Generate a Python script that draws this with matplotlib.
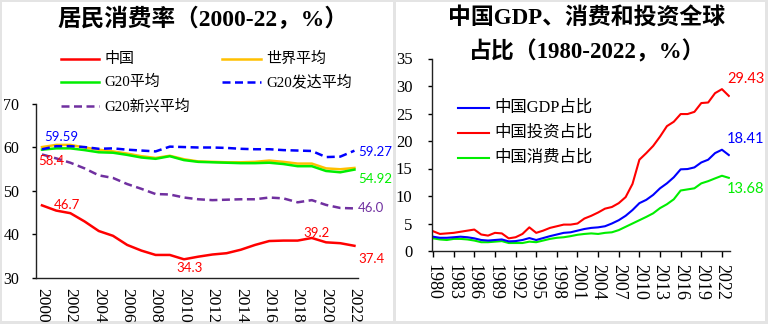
import matplotlib
matplotlib.use("Agg")
import numpy as np
import matplotlib.pyplot as plt
from matplotlib.lines import Line2D
from matplotlib.patches import Rectangle

# 居民消费率 2000-2022
years_a = np.arange(2000, 2023)
china = [46.7, 45.5, 44.9, 43.0, 40.8, 39.7, 37.6, 36.3, 35.3, 35.3, 34.3, 34.9,
         35.4, 35.7, 36.5, 37.6, 38.5, 38.6, 38.6, 39.2, 38.2, 38.0, 37.4]
world = [60.1, 60.6, 60.6, 60.0, 59.5, 59.1, 58.6, 58.0, 57.6, 58.1, 57.3, 56.8,
         56.7, 56.6, 56.6, 56.7, 57.0, 56.7, 56.3, 56.3, 55.2, 55.0, 55.3]
g20 = [59.5, 59.8, 59.8, 59.4, 58.9, 58.8, 58.3, 57.7, 57.4, 58.0, 57.1, 56.7,
       56.6, 56.5, 56.4, 56.4, 56.5, 56.2, 55.7, 55.7, 54.6, 54.3, 54.92]
g20_dev = [59.59, 60.3, 60.3, 60.1, 59.7, 59.8, 59.5, 59.3, 59.1, 60.2, 60.1, 60.0,
           60.0, 59.9, 59.7, 59.6, 59.6, 59.4, 59.3, 59.2, 57.8, 57.9, 59.27]
g20_emg = [58.4, 57.5, 56.5, 55.2, 53.6, 53.0, 51.6, 50.5, 49.3, 49.2, 48.5, 48.1,
           47.9, 48.0, 48.1, 48.1, 48.5, 48.3, 47.4, 47.9, 46.8, 46.1, 46.0]

# 中国GDP、投资、消费全球占比 1980-2023
years_b = np.arange(1980, 2024)
gdp_share = [2.6, 2.4, 2.4, 2.5, 2.6, 2.5, 2.3, 2.0, 1.9, 2.0, 2.1, 1.75, 1.8, 2.0, 2.35,
             2.0, 2.35, 2.7, 3.0, 3.3, 3.4, 3.7, 4.0, 4.2, 4.3, 4.5, 5.0, 5.6, 6.4, 7.45,
             8.7, 9.3, 10.2, 11.4, 12.3, 13.4, 14.85, 14.9, 15.2, 16.1, 16.6, 17.8, 18.41, 17.45]
inv_share = [3.6, 3.1, 3.2, 3.3, 3.5, 3.7, 3.9, 3.0, 2.8, 3.3, 3.2, 2.3, 2.5, 3.1, 4.3,
             3.3, 3.7, 4.2, 4.5, 4.8, 4.8, 5.0, 5.9, 6.4, 7.0, 7.7, 8.0, 8.7, 9.8, 12.2,
             16.6, 17.8, 19.1, 20.8, 22.7, 23.5, 24.9, 24.9, 25.3, 26.9, 27.0, 28.7, 29.43, 28.2]
cons_share = [2.3, 2.1, 2.0, 2.2, 2.2, 2.1, 1.9, 1.6, 1.6, 1.7, 1.8, 1.45, 1.45, 1.45, 1.7,
              1.6, 1.9, 2.2, 2.4, 2.5, 2.7, 2.95, 3.1, 3.2, 3.1, 3.3, 3.4, 3.8, 4.4, 5.0,
              5.6, 6.2, 6.85, 7.8, 8.5, 9.4, 11.0, 11.2, 11.4, 12.3, 12.7, 13.2, 13.68, 13.3]

RED, ORANGE, GREEN, BLUE, PURPLE = '#FF0000', '#FFC000', '#00EE00', '#0000FF', '#7030A0'
SERIF = ['Liberation Serif', 'Noto Sans CJK SC']
NUM = ['Lato', 'DejaVu Sans']
DASH = (3.2, 1.8)

W, H = 768, 324
fig = plt.figure(figsize=(W / 100, H / 100), dpi=100, facecolor='#e4e4e4')

# 两块白色面板，放在坐标轴下面
fig.patches.append(Rectangle((2 / W, 3 / H), 391 / W, 319 / H, transform=fig.transFigure,
                             facecolor='white', edgecolor='none', zorder=-5))
fig.patches.append(Rectangle((396 / W, 3 / H), 369 / W, 319 / H, transform=fig.transFigure,
                             facecolor='white', edgecolor='none', zorder=-5))


def px(x, y):
    return x / W, 1 - y / H


def legend_item(x0, x1, y, color, label, dashed=False, lw=1.8, fs=10.5):
    ln = Line2D([x0 / W, x1 / W], [1 - y / H] * 2, transform=fig.transFigure,
                color=color, lw=lw)
    if dashed:
        ln.set_dashes(DASH)
    fig.add_artist(ln)
    fig.text(*px(x1 + 5, y), label, fontsize=fs, family=SERIF, va='center', ha='left')


def style_axes(ax):
    for s in ['top', 'right']:
        ax.spines[s].set_visible(False)
    for s in ['left', 'bottom']:
        ax.spines[s].set_linewidth(1)
        ax.spines[s].set_color('#222222')
    ax.patch.set_alpha(0)


# ---------------- 左图：居民消费率 ----------------
ax1 = fig.add_axes([36 / W, 1 - 278 / H, 322 / W, 174 / H])
style_axes(ax1)
ax1.plot(years_a, china, color=RED, lw=1.8)
ax1.plot(years_a, world, color=ORANGE, lw=1.8)
ax1.plot(years_a, g20, color=GREEN, lw=1.8)
ax1.plot(years_a, g20_dev, color=BLUE, lw=1.8, dashes=DASH)
ax1.plot(years_a, g20_emg, color=PURPLE, lw=1.8, dashes=DASH)
ax1.set_xlim(1999.58, 2022.25)
ax1.set_ylim(30, 70)
ax1.set_yticks([30, 40, 50, 60, 70])
ax1.set_xticks(years_a[::2])
ax1.tick_params(axis='y', length=3, width=1, pad=9, labelsize=11.5)
ax1.tick_params(axis='x', length=0, pad=7, labelsize=12.5, labelrotation=-90)
for lab in ax1.get_xticklabels() + ax1.get_yticklabels():
    lab.set_family('Liberation Serif')
for lab in ax1.get_xticklabels():
    lab.set_va('top')

fig.text(*px(203, 19), '居民消费率（2000-22，%）', fontsize=17, weight='bold',
         family=SERIF, ha='center', va='center')

legend_item(61, 99, 59, RED, '中国', fs=10.8)
legend_item(222, 261, 59, ORANGE, '世界平均', fs=10.8)
legend_item(61, 99, 82, GREEN, 'G20平均', fs=10.8)
legend_item(222, 261, 82, BLUE, 'G20发达平均', dashed=True, fs=10.8)
legend_item(61, 99, 106, PURPLE, 'G20新兴平均', dashed=True, fs=10.8)

# 数据标签：(序列, 年份, 颜色, 格式, 偏移, 对齐)
notes_a = [
    (g20_dev, 2000, BLUE, '{:.2f}', (13.7, 9.2), 'center'),
    (g20_emg, 2000, RED, '{:.1f}', (6.5, -5), 'center'),
    (china, 2000, RED, '{:.1f}', (18, 0), 'center'),
    (china, 2010, RED, '{:.1f}', (4.3, -6.3), 'center'),
    (china, 2019, RED, '{:.1f}', (3.6, 3.8), 'center'),
    (china, 2022, RED, '{:.1f}', (12.5, -9.4), 'center'),
    (g20_dev, 2022, BLUE, '{:.2f}', (2.6, -1.3), 'left'),
    (g20, 2022, GREEN, '{:.2f}', (2.6, -6.9), 'left'),
    (g20_emg, 2022, PURPLE, '{:.1f}', (2.6, 0), 'left'),
]
for ser, yr, col, fmt, off, ha in notes_a:
    v = ser[yr - 2000]
    ax1.annotate(fmt.format(v), xy=(yr, v), xytext=off, textcoords='offset points',
                 color=col, fontsize=9.5, family=NUM, ha=ha, va='center',
                 annotation_clip=False)

# ---------------- 右图：全球占比 ----------------
ax2 = fig.add_axes([432 / W, 1 - 251 / H, 297.5 / W, 192.5 / H])
style_axes(ax2)
ax2.plot(years_b, cons_share, color=GREEN, lw=1.5)
ax2.plot(years_b, gdp_share, color=BLUE, lw=1.5)
ax2.plot(years_b, inv_share, color=RED, lw=1.5)
ax2.set_xlim(1979.85, 2023.1)
ax2.set_ylim(0, 35)
ax2.set_yticks(range(0, 36, 5))
ax2.set_xticks(np.arange(1980, 2023, 3))
ax2.tick_params(axis='y', length=3, width=1, pad=11, labelsize=12)
ax2.tick_params(axis='x', length=4, width=1, pad=5, labelsize=13, labelrotation=-90)
for lab in ax2.get_xticklabels() + ax2.get_yticklabels():
    lab.set_family('Liberation Serif')
for lab in ax2.get_xticklabels():
    lab.set_va('top')

fig.text(*px(587, 18), '中国GDP、消费和投资全球', fontsize=16.5, weight='bold',
         family=SERIF, ha='center', va='center')
fig.text(*px(587, 52), '占比（1980-2022，%）', fontsize=16.5, weight='bold',
         family=SERIF, ha='center', va='center')

legend_item(458, 489, 108, BLUE, '中国GDP占比', lw=1.5, fs=11.8)
legend_item(458, 489, 133, RED, '中国投资占比', lw=1.5, fs=11.8)
legend_item(458, 489, 158, GREEN, '中国消费占比', lw=1.5, fs=11.8)

notes_b = [
    (inv_share, RED, (3.6, 7.3)),
    (gdp_share, BLUE, (3.6, 7.5)),
    (cons_share, GREEN, (3.6, -9.5)),
]
for ser, col, off in notes_b:
    v = ser[2022 - 1980]
    ax2.annotate('{:.2f}'.format(v), xy=(2022, v), xytext=off, textcoords='offset points',
                 color=col, fontsize=10.5, family=NUM, ha='left', va='center',
                 annotation_clip=False)

fig.savefig('out.png', dpi=100, facecolor=fig.get_facecolor())
